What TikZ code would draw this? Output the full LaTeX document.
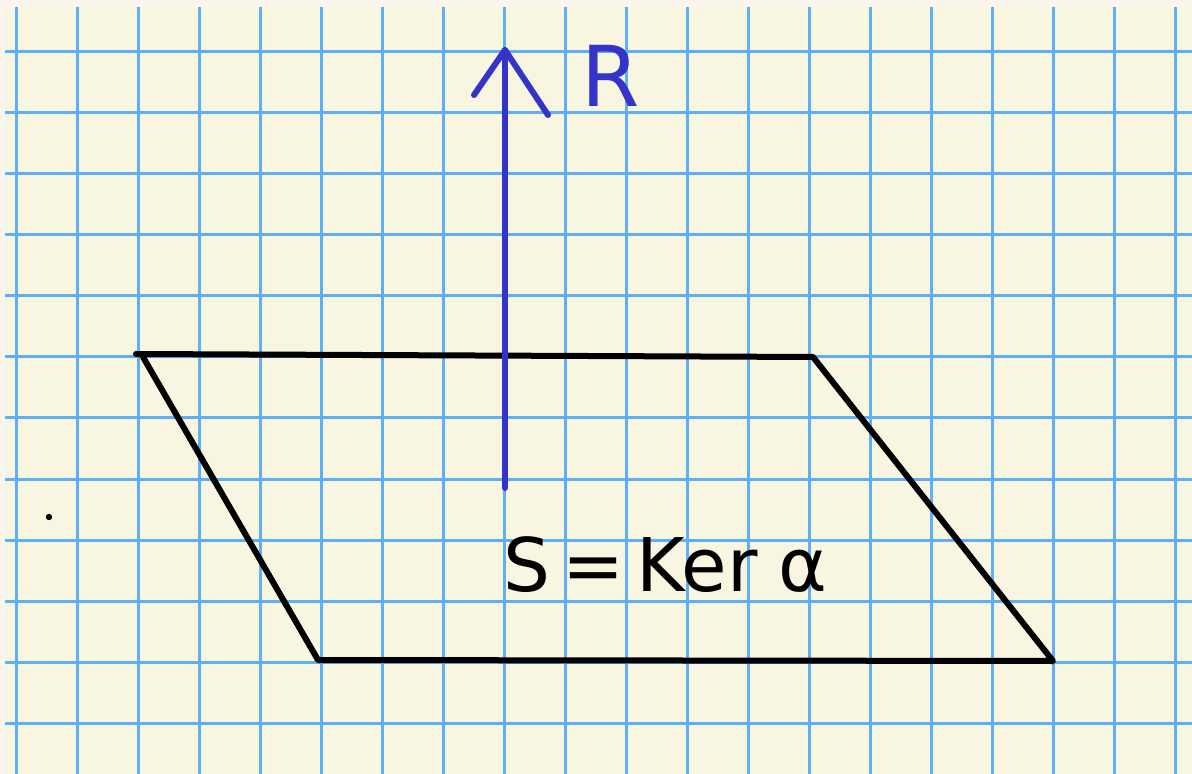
\documentclass[tikz,border=0pt]{standalone}
\usepackage{fontspec}
\setsansfont{DejaVu Sans}
\definecolor{paperout}{HTML}{FAF6EE}
\definecolor{paper}{HTML}{F8F5E1}
\definecolor{gridblue}{HTML}{5EAEF8}
\definecolor{penblue}{HTML}{3434C8}
\tikzset{
  gridline/.style={draw=gridblue, line width=1.5pt},
  ink/.style={draw=black, line width=3pt, line cap=round, line join=round},
  bluepen/.style={draw=penblue, line width=3pt, line cap=round, line join=round},
}
\begin{document}
\begin{tikzpicture}[x=0.5pt,y=-0.5pt]
\useasboundingbox (0,0) rectangle (1192,774);
\fill[paperout] (0,0) rectangle (1192,774);
\fill[paper] (5,7) rectangle (1192,774);
% grid
\foreach \i in {0,...,19} {
  \draw[gridline] ({16+61*\i},7) -- ({16+61*\i},774);
}
\foreach \j in {0,...,11} {
  \draw[gridline] (5,{52+61*\j}) -- (1192,{52+61*\j});
}
% parallelogram
\coordinate (tl) at (136,354);
\coordinate (tr) at (813,357);
\coordinate (br) at (1053,661);
\coordinate (bl) at (318,660);
\draw[ink] (tl) -- (tr) -- (br) -- (bl) -- (143,357);
% Reeb vector
\coordinate (base) at (505,488);
\coordinate (tip) at (505,50);
\coordinate (hl) at (474,95);
\coordinate (hr) at (548,115);
\draw[bluepen] (base) -- (tip);
\draw[bluepen] (hl) -- (tip) -- (hr);
\node[text=penblue, font=\sffamily\fontsize{42}{48}\selectfont] (R) at (611,76) {R};
% label
\node[font=\sffamily\fontsize{37}{42}\selectfont] (S) at (665,565) {S\,=\,Ker\;α};
% dot
\fill (49,517) circle (3.2);
\end{tikzpicture}
\end{document}
